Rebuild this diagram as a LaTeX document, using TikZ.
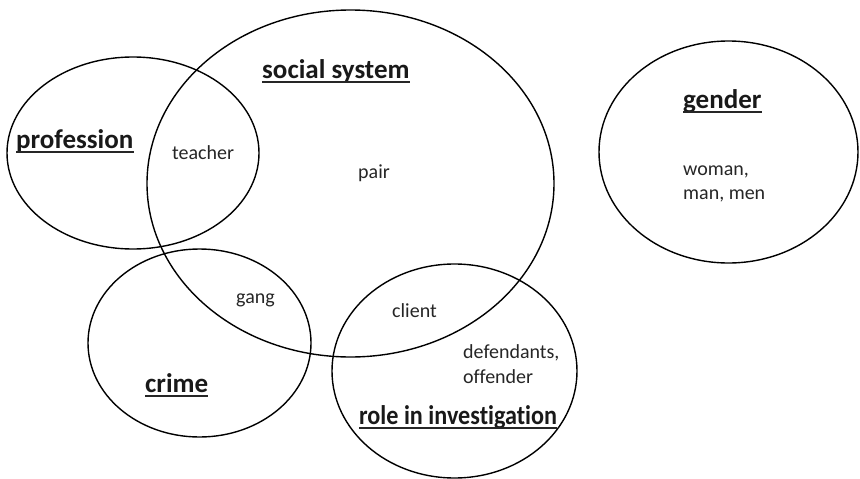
\documentclass[tikz,border=0pt]{standalone}
\usepackage{graphicx}
\usepackage{fontspec}
\setmainfont{Carlito}[Ligatures=NoCommon]
\usetikzlibrary{shapes.geometric}
\begin{document}
\begin{tikzpicture}[x={(1pt,0)},y={(0,-1pt)},
  setring/.style={draw=black,line width=1.4pt,ellipse,inner sep=0pt},
  heading/.style={font=\bfseries\fontsize{27}{31}\selectfont,inner sep=0pt,anchor=base west,text=black!90},
  term/.style={font=\fontsize{20}{24}\selectfont,inner sep=0pt,anchor=base west,text=black!85},
  uline/.style={line width=1.6pt,black!85}]
\useasboundingbox (0,0) rectangle (860,479);
\fill[white] (0,0) rectangle (860,479);

% category sets
\node[setring,minimum width=252pt,minimum height=192pt] (prof) at (133,153) {};
\node[setring,minimum width=407pt,minimum height=347pt] (soc) at (350.5,183.5) {};
\node[setring,minimum width=259pt,minimum height=222pt] (gen) at (728.5,152) {};
\node[setring,minimum width=223pt,minimum height=188pt] (crim) at (199.5,343) {};
\node[setring,minimum width=245pt,minimum height=214pt] (role) at (454.5,371) {};

% set headings
\node[heading] (hprof) at (16,148) {profession};
\node[heading] (hsoc) at (262,78) {social system};
\node[heading] (hgen) at (683,108) {gender};
\node[heading] (hcrim) at (145,392) {crime};
\node[heading] (hrole) at (359,424) {\scalebox{0.895}[1]{role in investigation}};
\foreach \h in {hprof,hsoc,hgen,hcrim,hrole}
  \draw[uline] ([yshift=-4pt]\h.base west) -- ([yshift=-4pt]\h.base east);

% member terms
\node[term] (teacher) at (172,159) {teacher};
\node[term] (pair) at (358,178) {pair};
\node[term] (woman) at (683,175) {woman,};
\node[term] (man) at (683,199) {man, men};
\node[term] (gang) at (236,303) {gang};
\node[term] (client) at (392,317) {client};
\node[term] (defend) at (463,358) {defendants,};
\node[term] (offend) at (463,383) {offender};
\end{tikzpicture}
\end{document}
